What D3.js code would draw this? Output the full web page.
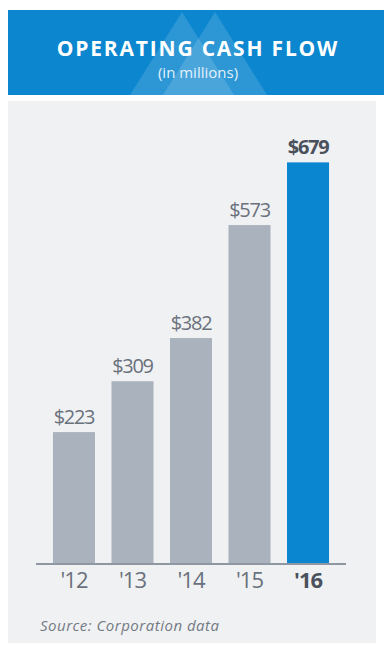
<!DOCTYPE html>
<html><head><meta charset="utf-8">
<script src="https://cdn.jsdelivr.net/npm/d3@7"></script>
<style>html,body{margin:0;padding:0;background:#fff;}svg{display:block;}</style>
</head><body>
<script>
const categories = ["'12","'13","'14","'15","'16"];
const values = [223, 309, 382, 573, 679];
const valueLabels = ["$223","$309","$382","$573","$679"];
const highlight = "'16";
const title = "OPERATING CASH FLOW";
const subtitle = "(in millions)";
const source = "Source: Corporation data";

const W = 384, H = 645;
const svg = d3.select("body").append("svg").attr("width", W).attr("height", H);

// header
svg.append("rect").attr("x", 8).attr("y", 10).attr("width", W - 8).attr("height", 85).attr("fill", "#0b86cf");
const hdr = svg.append("g");
const tri = (a, b, c) => `M${a[0]},${a[1]}L${b[0]},${b[1]}L${c[0]},${c[1]}Z`;
hdr.append("path").attr("d", tri([130,95],[182,12],[234,95])).attr("fill", "#fff").attr("opacity", 0.14);
hdr.append("path").attr("d", tri([163,95],[215,12],[267,95])).attr("fill", "#fff").attr("opacity", 0.14);
svg.append("text").attr("x", 198).attr("y", 56).attr("text-anchor", "middle")
  .attr("font-family", "Open Sans, sans-serif").attr("font-weight", 700).attr("font-size", 21)
  .attr("letter-spacing", 1.8).attr("fill", "#fff").text(title);
svg.append("text").attr("x", 198).attr("y", 78).attr("text-anchor", "middle")
  .attr("font-family", "Open Sans, sans-serif").attr("font-size", 15).attr("fill", "#e4f1fa").text(subtitle);

// panel
svg.append("rect").attr("x", 8).attr("y", 101).attr("width", 368).attr("height", 542).attr("fill", "#f0f1f3");

const x = d3.scaleBand().domain(categories).range([36, 346]).paddingInner(0.282).paddingOuter(0.29);
const y = d3.scaleLinear().domain([0, 700]).range([564, 564 - 700 * 0.5915]);

svg.append("g").selectAll("rect").data(values).join("rect")
  .attr("x", (d, i) => x(categories[i])).attr("width", x.bandwidth())
  .attr("y", d => y(d)).attr("height", d => y(0) - y(d))
  .attr("fill", (d, i) => categories[i] === highlight ? "#0a86d0" : "#aab2bd");

svg.append("g").selectAll("text").data(values).join("text")
  .attr("x", (d, i) => x(categories[i]) + x.bandwidth() / 2).attr("y", d => y(d) - 8)
  .attr("text-anchor", "middle").attr("font-family", "Open Sans, sans-serif")
  .attr("font-size", 20).attr("letter-spacing", -1.3)
  .attr("font-weight", (d, i) => categories[i] === highlight ? 700 : 400)
  .attr("fill", (d, i) => categories[i] === highlight ? "#4a515c" : "#6a717c")
  .text((d, i) => valueLabels[i]);

const axis = svg.append("g").attr("transform", `translate(0,${y(0)})`)
  .call(d3.axisBottom(x).tickSize(0).tickPadding(8).tickSizeOuter(0));
axis.select(".domain").attr("stroke", "#8f97a2").attr("stroke-width", 2).attr("d", "M36,0H346");
axis.selectAll("text").attr("font-family", "Open Sans, sans-serif").attr("font-size", 22)
  .attr("letter-spacing", -1).attr("dy", "0.71em")
  .attr("fill", d => d === highlight ? "#4a515c" : "#6a717c")
  .attr("font-weight", d => d === highlight ? 700 : 400);

svg.append("text").attr("x", 40).attr("y", 631).attr("font-family", "Open Sans, sans-serif")
  .attr("font-style", "italic").attr("font-size", 15).attr("letter-spacing", 0.5)
  .attr("fill", "#737a84").text(source);
</script>
</body></html>
